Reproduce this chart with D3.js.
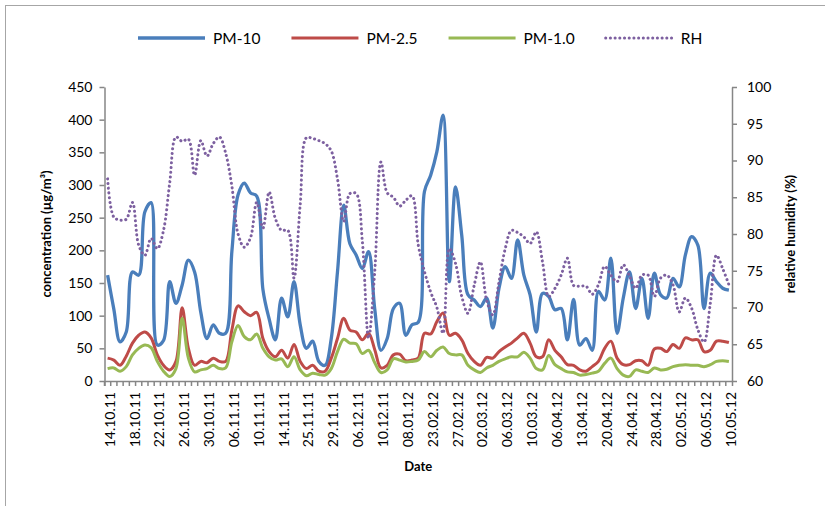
<!DOCTYPE html>
<html>
<head>
<meta charset="utf-8">
<title>PM concentration and relative humidity</title>
<script src="https://cdn.jsdelivr.net/npm/d3@7"></script>
<style type="text/css">
  body { margin: 0; background: #fff; }
  text { font-family: Lato, "Liberation Sans", sans-serif; fill: #000; }
  .axis path, .axis line { stroke: #868686; stroke-width: 1.5; }
  .axis text { font-size: 14px; }
  .title { font-weight: bold; font-size: 13px; }
</style>
</head>
<body>
<script type="text/javascript">

////////// data //////////
var seriesNames = ["PM-10", "PM-2.5", "PM-1.0", "RH"];

// one label every 4th sample
var dateLabels = ["14.10.11", "18.10.11", "22.10.11", "26.10.11", "30.10.11", "06.11.11",
  "10.11.11", "14.11.11", "25.11.11", "29.11.11", "06.12.11", "10.12.11", "08.01.12",
  "23.02.12", "27.02.12", "02.03.12", "06.03.12", "10.03.12", "06.04.12", "13.04.12",
  "20.04.12", "24.04.12", "28.04.12", "02.05.12", "06.05.12", "10.05.12"];
var labelEvery = 4;

var pm10 = [162, 110, 60, 75, 167, 162, 259, 273, 55, 62,
  152, 119, 147, 185, 167, 105, 65, 86, 73, 73,
  198, 285, 303, 288, 283, 140, 95, 63, 127, 98,
  152, 86, 50, 61, 30, 24, 65, 167, 269, 210,
  193, 172, 198, 110, 47, 65, 111, 119, 70, 86,
  90, 290, 315, 351, 407, 152, 297, 223, 132, 124,
  114, 127, 81, 142, 175, 157, 216, 162, 132, 75,
  134, 129, 109, 111, 63, 125, 55, 65, 47, 137,
  124, 188, 73, 127, 167, 111, 157, 96, 165, 132,
  127, 157, 144, 193, 221, 208, 111, 165, 152, 142,
  139];

var pm25 = [35, 32, 24, 38, 58, 70, 75, 66, 40, 24,
  17, 30, 112, 50, 24, 30, 28, 35, 30, 30,
  78, 115, 106, 100, 105, 65, 45, 37, 47, 35,
  56, 30, 19, 24, 15, 15, 35, 65, 96, 78,
  75, 63, 73, 48, 20, 24, 40, 41, 31, 32,
  35, 73, 72, 91, 104, 70, 73, 63, 42, 30,
  24, 36, 35, 45, 52, 58, 66, 73, 58, 37,
  37, 63, 47, 37, 25, 24, 17, 15, 22, 30,
  50, 61, 35, 25, 25, 31, 31, 24, 49, 50,
  45, 56, 50, 66, 63, 63, 45, 47, 61, 61,
  59];

var pm1 = [19, 20, 15, 22, 40, 50, 55, 51, 30, 15,
  7, 19, 96, 35, 14, 17, 19, 24, 19, 20,
  60, 85, 68, 63, 72, 50, 37, 32, 34, 22,
  37, 17, 8, 12, 10, 9, 19, 45, 64, 58,
  57, 42, 47, 28, 13, 17, 34, 32, 29, 30,
  32, 45, 37, 47, 52, 42, 40, 40, 24, 17,
  13, 20, 24, 30, 34, 37, 37, 44, 35, 19,
  17, 39, 25, 19, 14, 13, 9, 10, 12, 15,
  27, 35, 19, 9, 7, 17, 15, 13, 20, 17,
  18, 22, 24, 25, 24, 24, 22, 25, 30, 31,
  30];

var rh = [87.5, 82.3, 81.9, 82.0, 84.3, 78.5, 77.1, 79.4, 78.0, 80.5,
  87.0, 93.2, 92.6, 92.9, 88.0, 92.7, 90.6, 92.3, 93.2, 91.0,
  86.5, 80.0, 78.2, 79.5, 84.3, 80.8, 85.7, 82.1, 80.5, 80.5,
  74.0, 84.0, 93.1, 93.0, 92.7, 92.3, 91.3, 87.5, 81.7, 85.5,
  85.5, 79.0, 65.8, 74.9, 89.8, 85.6, 85.0, 83.8, 84.6, 85.2,
  78.5, 74.9, 72.1, 70.0, 66.5, 78.0, 76.0, 71.5, 69.2, 73.0,
  76.2, 71.0, 69.0, 73.5, 78.0, 80.5, 80.2, 79.6, 78.7, 80.3,
  76.2, 71.5, 72.6, 74.4, 76.7, 73.0, 72.9, 72.9, 71.8, 73.1,
  75.6, 74.4, 73.5, 75.8, 74.3, 72.6, 74.4, 74.4, 71.5, 74.0,
  74.4, 73.1, 69.4, 71.3, 69.9, 67.0, 65.3, 70.5, 77.1, 75.3,
  73.1];

var leftTicks = [0, 50, 100, 150, 200, 250, 300, 350, 400, 450];
var rightTicks = [60, 65, 70, 75, 80, 85, 90, 95, 100];

////////// size of svg and plot area //////////
var w = 825;
var h = 506;
var plot = {left: 104.5, right: 732, top: 87, bottom: 381};

var colors = {"PM-10": "#4a7ebb", "PM-2.5": "#be4b48", "PM-1.0": "#98b954", "RH": "#7d60a0"};
var widths = {"PM-10": 3.3, "PM-2.5": 3, "PM-1.0": 3, "RH": 3};

var svg = d3.select("body").append("svg")
    .attr("width", w)
    .attr("height", h);

// chart frame
svg.append("rect")
    .attr("x", 5.5).attr("y", 5.5)
    .attr("width", 830).attr("height", 600)
    .attr("fill", "#fff")
    .attr("stroke", "#a6a6a6");

////////// scales //////////
var xScale = d3.scaleBand()
    .domain(d3.range(pm10.length))
    .range([plot.left, plot.right]);
var bw = xScale.bandwidth();

var yLeft = d3.scaleLinear().domain([0, 450]).range([plot.bottom, plot.top]);
var yRight = d3.scaleLinear().domain([60, 100]).range([plot.bottom, plot.top]);

////////// axes //////////
var gx = svg.append("g")
    .attr("class", "axis")
    .attr("transform", "translate(0," + plot.bottom + ")")
    .call(d3.axisBottom(xScale).tickSize(5).tickFormat(""));
// Excel puts the ticks between categories
gx.selectAll(".tick line").attr("transform", "translate(" + (-bw / 2) + ",0)");

svg.append("g")
    .selectAll("text")
    .data(dateLabels)
    .enter()
    .append("text")
    .attr("class", "xlab")
    .attr("font-size", "14px")
    .attr("text-anchor", "end")
    .attr("dy", "0.36em")
    .attr("transform", function(d, i) {
        return "translate(" + (xScale(i * labelEvery) + bw / 2 + 2) + "," + (plot.bottom + 11) + ") rotate(-90)";
    })
    .text(function(d) { return d; });

svg.append("g")
    .attr("class", "axis")
    .attr("transform", "translate(" + plot.left + ",0)")
    .call(d3.axisLeft(yLeft).tickValues(leftTicks).tickSize(5).tickSizeOuter(0).tickPadding(7));

svg.append("g")
    .attr("class", "axis")
    .attr("transform", "translate(" + plot.right + ",0)")
    .call(d3.axisRight(yRight).tickValues(rightTicks).tickSize(5).tickSizeOuter(0).tickPadding(10));

svg.selectAll(".axis .tick text").attr("fill", "#000");

// axis titles
svg.append("text")
    .attr("class", "title")
    .attr("text-anchor", "middle")
    .attr("transform", "translate(51," + ((plot.top + plot.bottom) / 2) + ") rotate(-90)")
    .text("concentration (µg/m³)");

svg.append("text")
    .attr("class", "title")
    .attr("text-anchor", "middle")
    .attr("transform", "translate(795," + ((plot.top + plot.bottom) / 2) + ") rotate(-90)")
    .text("relative humidity (%)");

svg.append("text")
    .attr("class", "title")
    .attr("text-anchor", "middle")
    .attr("x", (plot.left + plot.right) / 2)
    .attr("y", 471)
    .text("Date");

////////// lines //////////
function lineFor(scale) {
    return d3.line()
        .x(function(d, i) { return xScale(i) + bw / 2; })
        .y(function(d) { return scale(d); })
        .curve(d3.curveCatmullRom.alpha(0.5));
}

var seriesData = [pm10, pm25, pm1];
seriesData.forEach(function(vals, k) {
    svg.append("path")
        .datum(vals)
        .attr("fill", "none")
        .attr("stroke", colors[seriesNames[k]])
        .attr("stroke-width", widths[seriesNames[k]])
        .attr("stroke-linejoin", "round")
        .attr("d", lineFor(yLeft));
});

svg.append("path")
    .datum(rh)
    .attr("fill", "none")
    .attr("stroke", colors["RH"])
    .attr("stroke-width", widths["RH"])
    .attr("stroke-linecap", "round")
    .attr("stroke-dasharray", "0.1 4.6")
    .attr("d", lineFor(yRight));

////////// legend //////////
var legend = svg.append("g").attr("transform", "translate(0,38)");
var lx = 138;
seriesNames.forEach(function(name) {
    var ln = legend.append("line")
        .attr("x1", lx).attr("x2", lx + 67)
        .attr("y1", 0).attr("y2", 0)
        .attr("stroke", colors[name])
        .attr("stroke-width", widths[name]);
    if (name == "RH") {
        ln.attr("stroke-linecap", "round").attr("stroke-dasharray", "0.1 4.6");
    }
    var t = legend.append("text")
        .attr("x", lx + 75)
        .attr("y", 0)
        .attr("dy", "0.36em")
        .attr("font-size", "15.5px")
        .text(name);
    lx = lx + 75 + t.node().getComputedTextLength() + 31;
});

</script>
</body>
</html>
